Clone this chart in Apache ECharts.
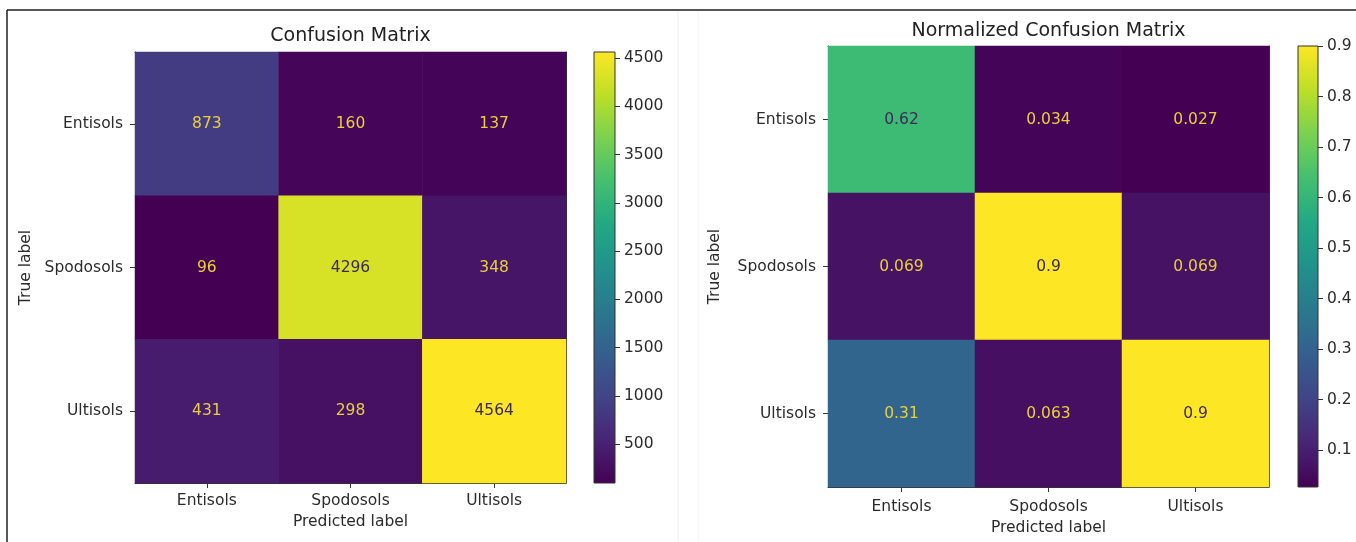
<!DOCTYPE html>
<html>
<head>
<meta charset="utf-8">
<title>Confusion matrices</title>
<script src="https://cdn.jsdelivr.net/npm/echarts@6/dist/echarts.min.js"></script>
<style>
  html, body { margin: 0; padding: 0; background: #ffffff; }
  #chart { width: 1356px; height: 542px; }
</style>
</head>
<body>
<div id="chart"></div>
<script>
// Class labels (rows = true label, columns = predicted label)
const classes = ['Entisols', 'Spodosols', 'Ultisols'];

// Raw counts, one array per true-label row
const countEntisols  = [873, 160, 137];
const countSpodosols = [96, 4296, 348];
const countUltisols  = [431, 298, 4564];

// Column-normalized values, one array per true-label row
const normEntisols  = [0.62, 0.034, 0.027];
const normSpodosols = [0.069, 0.9, 0.069];
const normUltisols  = [0.31, 0.063, 0.9];

// Colorbar tick labels
const countTicks = [500, 1000, 1500, 2000, 2500, 3000, 3500, 4000, 4500];
const normTicks  = [0.1, 0.2, 0.3, 0.4, 0.5, 0.6, 0.7, 0.8, 0.9];

// Viridis colormap stops
const viridis = ['#440154', '#482475', '#414487', '#355f8d', '#2a788e',
                 '#21918c', '#22a884', '#44bf70', '#7ad151', '#bddf26', '#fde725'];

const FONT = 'DejaVu Sans';
const TEXT = '#2b2b2b';
const FRAME = '#333333';
const LIGHT_TXT = '#e8d03a';
const DARK_TXT = '#3d2a58';

function buildCells(rows) {
  const flat = rows.flat();
  const lo = Math.min(...flat), hi = Math.max(...flat);
  const thresh = (lo + hi) / 2;
  const data = [];
  rows.forEach((row, r) => row.forEach((v, c) => {
    data.push({
      value: [c, r, v],
      label: { color: v < thresh ? LIGHT_TXT : DARK_TXT }
    });
  }));
  return { data, lo, hi };
}

const counts = buildCells([countEntisols, countSpodosols, countUltisols]);
const norms = buildCells([normEntisols, normSpodosols, normUltisols]);

const grids = [
  { left: 135, top: 52, width: 431, height: 431 },   // counts matrix
  { left: 594, top: 52, width: 21, height: 431 },    // counts colorbar
  { left: 828, top: 46, width: 441, height: 441 },   // normalized matrix
  { left: 1298, top: 46, width: 20, height: 441 }    // normalized colorbar
];

const tickLabel = { fontFamily: FONT, fontSize: 15.5, color: TEXT };

function matrixAxes(gridIndex, title, labelGapX, nameGapX, nameGapY, titleGap) {
  const x = [
    {
      type: 'category', gridIndex, data: classes, position: 'bottom',
      name: 'Predicted label', nameLocation: 'middle', nameGap: nameGapX,
      nameTextStyle: { fontFamily: FONT, fontSize: 15.5, color: TEXT, verticalAlign: 'middle' },
      axisLine: { show: true, lineStyle: { color: FRAME, width: 1 } },
      axisTick: { show: true, alignWithLabel: true, length: 5, lineStyle: { color: FRAME } },
      axisLabel: Object.assign({ margin: labelGapX }, tickLabel),
      splitLine: { show: false }
    },
    {
      type: 'category', gridIndex, data: classes, position: 'top',
      name: title, nameLocation: 'middle', nameGap: titleGap,
      nameTextStyle: { fontFamily: FONT, fontSize: 19, color: '#222222', verticalAlign: 'middle' },
      axisLine: { show: true, lineStyle: { color: FRAME, width: 1 } },
      axisTick: { show: false }, axisLabel: { show: false }, splitLine: { show: false }
    }
  ];
  const y = [
    {
      type: 'category', gridIndex, data: classes, inverse: true, position: 'left',
      name: 'True label', nameLocation: 'middle', nameGap: nameGapY,
      nameTextStyle: { fontFamily: FONT, fontSize: 15.5, color: TEXT, verticalAlign: 'middle' },
      axisLine: { show: true, lineStyle: { color: FRAME, width: 1 } },
      axisTick: { show: true, alignWithLabel: true, length: 5, lineStyle: { color: FRAME } },
      axisLabel: Object.assign({ margin: 12 }, tickLabel),
      splitLine: { show: false }
    },
    {
      type: 'category', gridIndex, data: classes, inverse: true, position: 'right',
      axisLine: { show: true, lineStyle: { color: FRAME, width: 1 } },
      axisTick: { show: false }, axisLabel: { show: false }, splitLine: { show: false }
    }
  ];
  return { x, y };
}

function colorbarAxes(gridIndex, lo, hi, ticks) {
  return {
    x: { type: 'category', gridIndex, data: [''], show: false },
    y: {
      type: 'value', gridIndex, min: lo, max: hi, position: 'right',
      axisLine: { show: false },
      axisTick: { show: true, length: 5, customValues: ticks, lineStyle: { color: FRAME } },
      axisLabel: Object.assign({ margin: 9, customValues: ticks, formatter: v => String(v) }, tickLabel),
      splitLine: { show: false }
    }
  };
}

const m1 = matrixAxes(0, 'Confusion Matrix', 10, 39, 109, 16);
const m2 = matrixAxes(2, 'Normalized Confusion Matrix', 12, 41, 113, 15);
const c1 = colorbarAxes(1, counts.lo, counts.hi, countTicks);
const c2 = colorbarAxes(3, norms.lo, norms.hi, normTicks);

// Axis order: 0,1 counts matrix | 2 counts bar | 3,4 normalized matrix | 5 normalized bar
const xAxes = [m1.x[0], m1.x[1], c1.x, m2.x[0], m2.x[1], c2.x];
const yAxes = [m1.y[0], m1.y[1], c1.y, m2.y[0], m2.y[1], c2.y];

// Colorbar drawn as one gradient rectangle spanning [lo, hi] on its value axis
function colorbarRender(params, api) {
  const cs = params.coordSys;
  const top = api.coord([0, api.value(2)])[1];
  const bottom = api.coord([0, api.value(1)])[1];
  const stops = viridis.map((c, i) => ({ offset: i / (viridis.length - 1), color: c }));
  return {
    type: 'rect',
    shape: { x: cs.x, y: top, width: cs.width, height: bottom - top },
    style: {
      fill: new echarts.graphic.LinearGradient(0, 1, 0, 0, stops),
      stroke: FRAME, lineWidth: 1
    }
  };
}

const heatLabel = { show: true, fontFamily: FONT, fontSize: 15.5 };

const option = {
  backgroundColor: '#ffffff',
  animation: false,
  grid: grids,
  xAxis: xAxes,
  yAxis: yAxes,
  visualMap: [
    { show: false, type: 'continuous', seriesIndex: 0, min: counts.lo, max: counts.hi,
      inRange: { color: viridis } },
    { show: false, type: 'continuous', seriesIndex: 2, min: norms.lo, max: norms.hi,
      inRange: { color: viridis } }
  ],
  series: [
    { type: 'heatmap', xAxisIndex: 0, yAxisIndex: 0, data: counts.data,
      label: heatLabel, itemStyle: { borderWidth: 0 }, emphasis: { disabled: true } },
    { type: 'custom', xAxisIndex: 2, yAxisIndex: 2, renderItem: colorbarRender,
      data: [[0, counts.lo, counts.hi]], silent: true },
    { type: 'heatmap', xAxisIndex: 3, yAxisIndex: 3, data: norms.data,
      label: heatLabel, itemStyle: { borderWidth: 0 }, emphasis: { disabled: true } },
    { type: 'custom', xAxisIndex: 5, yAxisIndex: 5, renderItem: colorbarRender,
      data: [[0, norms.lo, norms.hi]], silent: true }
  ],
  graphic: [
    // page frame around the figure
    { type: 'line', shape: { x1: 7, y1: 10, x2: 1356, y2: 10 },
      style: { stroke: '#1e1e1e', lineWidth: 1.5 } },
    { type: 'line', shape: { x1: 7, y1: 10, x2: 7, y2: 542 },
      style: { stroke: '#1e1e1e', lineWidth: 1.5 } },
    { type: 'line', shape: { x1: 678, y1: 11, x2: 678, y2: 542 },
      style: { stroke: '#eeeeee', lineWidth: 1 } },
    { type: 'line', shape: { x1: 698, y1: 11, x2: 698, y2: 542 },
      style: { stroke: '#f2f2f2', lineWidth: 1 } }
  ]
};

const chart = echarts.init(document.getElementById('chart'), null, { renderer: 'canvas' });
chart.setOption(option);
</script>
</body>
</html>
